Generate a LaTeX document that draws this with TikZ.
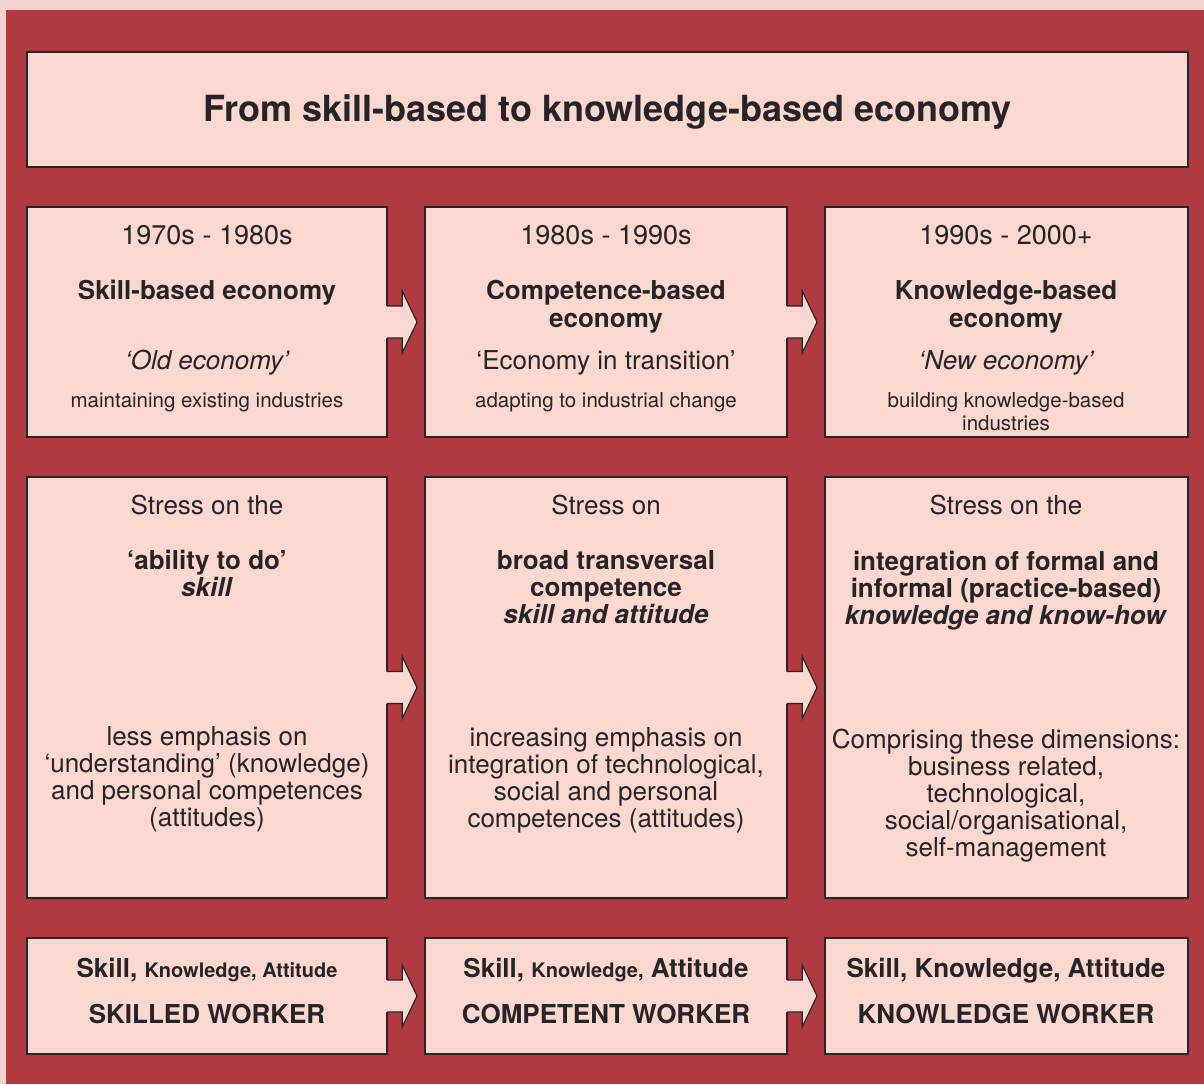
\documentclass[tikz,border=0pt]{standalone}
\usepackage{fontspec}
\setmainfont{TeX Gyre Heros}
\usepackage{xcolor}
\usepackage{tikz}
\usetikzlibrary{calc}
\definecolor{Bordeaux}{RGB}{176,58,64}
\definecolor{Rose}{RGB}{250,215,207}
\definecolor{Paper}{RGB}{244,212,208}
\definecolor{Ink}{RGB}{38,36,40}
\newcommand{\Lesser}[1]{{\fontsize{20}{22}\selectfont #1}}
\tikzset{%Global config
	>=latex,
	color = Ink ,
	%Styles
	Box/.style={
		draw=Ink,
		fill=Rose,
		line width=1.2pt,
		inner sep=0pt,
		outer sep=0pt,
		anchor=north west,
	},
	Txt/.style={ % base = baseline of the last line
		inner sep=0pt,
		anchor=base,
		align=center,
	},
	Title/.style={Txt, font=\fontsize{36}{40}\selectfont\bfseries},
	Year/.style={Txt, font=\fontsize{27}{30}\selectfont},
	Eco/.style={Txt, font=\fontsize{26}{28}\selectfont\bfseries},
	Quote/.style={Txt, font=\fontsize{26}{28}\selectfont},
	Sub/.style={Txt, font=\fontsize{20.5}{22.5}\selectfont},
	Body/.style={Txt, font=\fontsize{26}{27}\selectfont},
	Focus/.style={Txt, font=\fontsize{26}{27}\selectfont\bfseries},
	Worker/.style={Txt, font=\fontsize{26}{28}\selectfont\bfseries},
	Edge/.style={
		draw=Ink,
		line width=1.2pt,
		line join=miter,
	},
}
% fat arrow leaving the east side of #1, pointing at the west side of #2
\newcommand{\BlockArrow}[2]{%
	\coordinate (#1-neck) at ($(#1.east)!0.4!(#2.west)$);
	\coordinate (#1-tip) at ($(#1.east)!0.79!(#2.west)$);
	\fill[Rose] ($(#1.east)+(-1,-16)$) -- ($(#1-neck)+(0,-16)$) -- ($(#1-neck)+(0,-31)$) -- (#1-tip)
		-- ($(#1-neck)+(0,31)$) -- ($(#1-neck)+(0,16)$) -- ($(#1.east)+(-1,16)$) -- cycle;
	\draw[Edge] ($(#1.east)+(0,-16)$) -- ($(#1-neck)+(0,-16)$) -- ($(#1-neck)+(0,-31)$) -- (#1-tip)
		-- ($(#1-neck)+(0,31)$) -- ($(#1-neck)+(0,16)$) -- ($(#1.east)+(0,16)$);
}

\begin{document}
\begin{tikzpicture}[x=1pt,y=-1pt]
		\useasboundingbox (0,0) rectangle (1204,1084);
		\fill[Paper] (0,0) rectangle (1204,1084);
		\fill[Bordeaux] (6,10) rectangle (1204,1084);
		
		% Boxes
		\node[Box, minimum width=1161, minimum height=115] (Top) at (27,52) {};
		\foreach \c/\x/\w in {1/27/360, 2/425/362, 3/825/363}{
			\node[Box, minimum width=\w, minimum height=230] (Era\c) at (\x,207) {};
			\node[Box, minimum width=\w, minimum height=421] (Stress\c) at (\x,477) {};
			\node[Box, minimum width=\w, minimum height=116] (Worker\c) at (\x,938) {};
		}
		
		% Arrows
		\BlockArrow{Era1}{Era2}
		\BlockArrow{Era2}{Era3}
		\BlockArrow{Stress1}{Stress2}
		\BlockArrow{Stress2}{Stress3}
		\BlockArrow{Worker1}{Worker2}
		\BlockArrow{Worker2}{Worker3}
		
		\node[Title] (head) at (607.5,121) {From skill-based to knowledge-based economy};
		
		% Periods
		\node[Year] (year1) at (207,244) {1970s - 1980s};
		\node[Eco] (eco1) at (207,299) {Skill-based economy};
		\node[Quote] (quote1) at (207,369) {\itshape ‘Old economy’};
		\node[Sub] (aim1) at (207,407) {maintaining existing industries};
		
		\node[Year] (year2) at (606,244) {1980s - 1990s};
		\node[Eco] (eco2) at (606,327) {Competence-based\\economy};
		\node[Quote] (quote2) at (606,369) {‘Economy in transition’};
		\node[Sub] (aim2) at (606,407) {adapting to industrial change};
		
		\node[Year] (year3) at (1006,244) {1990s - 2000+};
		\node[Eco] (eco3) at (1006,327) {Knowledge-based\\economy};
		\node[Quote] (quote3) at (1006,369) {\itshape ‘New economy’};
		\node[Sub] (aim3) at (1006,430) {building knowledge-based\\industries};
		
		% Stress
		\node[Body] (lead1) at (207,514) {Stress on the};
		\node[Focus] (focus1) at (207,596) {‘ability to do’\\\textit{skill}};
		\node[Body] (note1) at (207,826) {less emphasis on\\‘understanding’ (knowledge)\\and personal competences\\(attitudes)};
		
		\node[Body] (lead2) at (606,514) {Stress on};
		\node[Focus] (focus2) at (606,623) {broad transversal\\competence\\\textit{skill and attitude}};
		\node[Body] (note2) at (606,827) {increasing emphasis on\\integration of technological,\\social and personal\\competences (attitudes)};
		
		\node[Body] (lead3) at (1006,514) {Stress on the};
		\node[Focus] (focus3) at (1006,624) {integration of formal and\\informal (practice-based)\\\textit{knowledge and know-how}};
		\node[Body] (note3) at (1006,856) {Comprising these dimensions:\\business related,\\technological,\\social/organisational,\\self-management};
		
		% Workers
		\node[Worker] (ska1) at (207,977) {Skill, \Lesser{Knowledge, Attitude}};
		\node[Worker] (role1) at (207,1023) {SKILLED WORKER};
		\node[Worker] (ska2) at (606,977) {Skill, \Lesser{Knowledge,} Attitude};
		\node[Worker] (role2) at (606,1023) {COMPETENT WORKER};
		\node[Worker] (ska3) at (1006,977) {Skill, Knowledge, Attitude};
		\node[Worker] (role3) at (1006,1023) {KNOWLEDGE WORKER};
	\end{tikzpicture}
\end{document}
